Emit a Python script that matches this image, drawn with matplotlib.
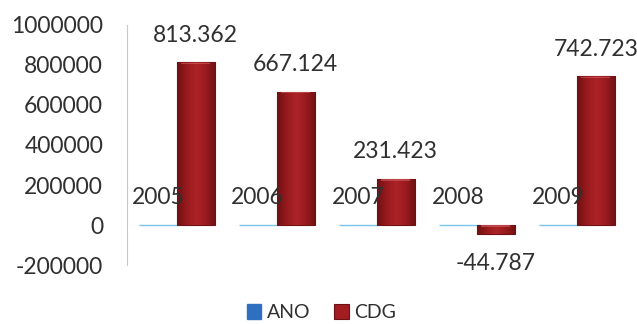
import matplotlib
matplotlib.use("Agg")
import matplotlib.pyplot as plt
import numpy as np
from matplotlib.colors import LinearSegmentedColormap

plt.rcParams['font.family'] = ['Lato', 'DejaVu Sans']

categories = ["1", "2", "3", "4", "5"]
ano = [2005, 2006, 2007, 2008, 2009]
cdg = [813362, 667124, 231423, -44787, 742723]
yticks = [-200000, 0, 200000, 400000, 600000, 800000, 1000000]

def fmt_pt(v):
    s = f"{abs(v):,}".replace(",", ".")
    return ("-" if v < 0 else "") + s

fig = plt.figure(figsize=(6.37, 3.24), dpi=100)
ax = fig.add_axes([0.199, 0.182, 0.785, 0.741])

x = np.arange(len(categories))
w = 0.38
text_c = "#303030"
fs = 16.5

b_ano = ax.bar(x - w / 2, ano, w, color="#4aa3df", edgecolor="#7cc3ec", linewidth=1.0, zorder=2)
b_cdg = ax.bar(x + w / 2, cdg, w, color="#a11d21", edgecolor="#6e1114", linewidth=0.8, zorder=3)

# shaded fill for the CDG bars: dark sides, brighter middle, soft top rim
red_cmap = LinearSegmentedColormap.from_list(
    "cdg", ["#6e1114", "#981a1e", "#ac2428", "#981a1e", "#6e1114"])
grad = np.linspace(0, 1, 64).reshape(1, -1)
for p in b_cdg:
    x0, y0 = p.get_x(), p.get_y()
    w0, h0 = p.get_width(), p.get_height()
    im = ax.imshow(grad, cmap=red_cmap, aspect="auto", zorder=3.1,
                   extent=[x0, x0 + w0, min(y0, y0 + h0), max(y0, y0 + h0)])
    im.set_clip_path(p)
    top = max(y0, y0 + h0)
    ax.fill_between([x0 + w0 * 0.12, x0 + w0 * 0.88], top - 9000, top - 1500,
                    color="#d4676a", alpha=0.55, linewidth=0, zorder=3.2)

ax.set_xlim(-0.5, len(categories) - 0.5)
ax.set_ylim(-200000, 1000000)

for xi, v in zip(x - w / 2, ano):
    ax.annotate(str(v), (xi, v), xytext=(0, 12), textcoords="offset points",
                ha="center", va="bottom", fontsize=fs, color=text_c, zorder=5)
for xi, v in zip(x + w / 2, cdg):
    off = 12 if v >= 0 else -14
    ax.annotate(fmt_pt(v), (xi, v), xytext=(0, off), textcoords="offset points",
                ha="center", va="bottom" if v >= 0 else "top", fontsize=fs,
                color=text_c, zorder=5)

ax.set_yticks(yticks)
ax.set_yticklabels([str(t) for t in yticks], fontsize=fs, color=text_c)
ax.set_xticks([])
ax.tick_params(axis="y", length=0, pad=17)
for s in ["top", "right", "bottom"]:
    ax.spines[s].set_visible(False)
ax.spines["left"].set_color("#c8c8c8")
ax.spines["left"].set_linewidth(0.8)

leg = fig.legend([b_ano, b_cdg], ["ANO", "CDG"], loc="center", bbox_to_anchor=(0.505, 0.035),
                 ncol=2, frameon=False, fontsize=14, handlelength=0.75, handleheight=0.75,
                 handletextpad=0.3, columnspacing=1.2)
for t in leg.get_texts():
    t.set_color(text_c)
leg.legend_handles[0].set_color("#2f6fc0")

fig.savefig("out.png", dpi=100)
